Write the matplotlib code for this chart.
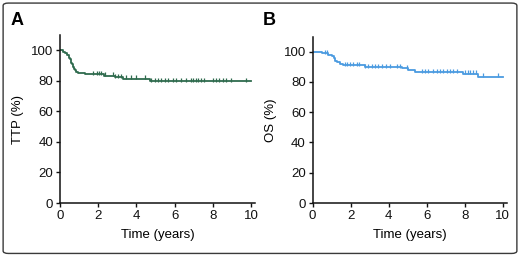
import matplotlib
matplotlib.use("Agg")
import matplotlib.pyplot as plt
from matplotlib.patches import FancyBboxPatch
import numpy as np

# ---- Data: panel A (TTP) ----
ttp_times = [0, 0.15, 0.25, 0.35, 0.45, 0.5, 0.55, 0.6, 0.65, 0.7, 0.75, 0.8, 0.85, 0.95,
             1.3, 2.3, 2.9, 3.3, 4.7, 10.0]
ttp_surv = [100, 99, 98, 97, 95, 94, 93, 92, 91, 89, 88, 87, 86, 85,
            84.5, 83.5, 82.5, 81.5, 80, 80]
ttp_censor = [1.74, 1.91, 2.05, 2.17, 2.34, 2.78, 2.90, 3.04, 3.21, 3.47, 3.73, 3.99,
              4.43, 4.77, 4.95, 5.12, 5.30, 5.47, 5.64, 5.90, 6.08, 6.34, 6.60, 6.86,
              6.98, 7.12, 7.24, 7.38, 7.55, 7.99, 8.16, 8.33, 8.51, 8.68, 8.94, 9.72]

# ---- Data: panel B (OS) ----
os_times = [0, 0.47, 0.82, 1.0, 1.1, 1.2, 1.3, 1.45, 1.6, 2.75, 4.68, 5.03, 5.38, 7.93, 8.72, 10.0]
os_surv = [100, 99, 98, 97, 96, 94, 93, 92, 91, 90, 89, 88, 86.7, 85.6, 83.5, 83.5]
os_censor = [0.65, 0.74, 1.70, 1.82, 1.96, 2.14, 2.31, 2.44, 2.75, 2.93, 3.10, 3.28, 3.45,
             3.63, 3.86, 4.07, 4.45, 4.59, 4.94, 5.73, 5.91, 6.09, 6.35, 6.53, 6.70, 6.87,
             7.05, 7.23, 7.40, 7.58, 8.02, 8.19, 8.28, 8.45, 8.58, 8.98, 9.77]

x_ticks = [0, 2, 4, 6, 8, 10]
y_ticks = [0, 20, 40, 60, 80, 100]

plt.rcParams['font.family'] = ['Liberation Sans', 'DejaVu Sans']

fig = plt.figure(figsize=(5.2, 2.56), dpi=100)

border = FancyBboxPatch((0.006, 0.01), 0.988, 0.978, boxstyle="round,pad=0,rounding_size=0.01",
                        transform=fig.transFigure, fill=False, edgecolor='#3a3a3a', linewidth=1.0)
fig.patches.append(border)


def surv_at(times, surv, t):
    idx = np.searchsorted(times, t, side='right') - 1
    return surv[idx]


def panel(rect, times, surv, censor, color, ylabel, letter, letter_x):
    ax = fig.add_axes(rect)
    ax.step(times, surv, where='post', color=color, linewidth=1.3)
    cy = [surv_at(times, surv, c) for c in censor]
    ax.plot(censor, np.array(cy) + 0.8, linestyle='none', marker='|', markersize=3.5,
            markeredgewidth=0.9, color=color)
    ax.set_xlim(0, 10.2)
    ax.set_ylim(0, 110)
    ax.set_xticks(x_ticks)
    ax.set_yticks(y_ticks)
    ax.spines['top'].set_visible(False)
    ax.spines['right'].set_visible(False)
    for s in ('left', 'bottom'):
        ax.spines[s].set_linewidth(1.1)
        ax.spines[s].set_color('#111111')
    ax.tick_params(direction='out', length=3, width=1, labelsize=9.5, pad=2, colors='#111111')
    ax.set_xlabel('Time (years)', fontsize=9.5, labelpad=5)
    ax.set_ylabel(ylabel, fontsize=9.5, labelpad=5)
    fig.text(letter_x, 0.92, letter, fontsize=13, fontweight='bold',
             va='center', ha='left')
    return ax


panel([0.1154, 0.207, 0.375, 0.656], ttp_times, ttp_surv, ttp_censor, '#2f6b4e', 'TTP (%)', 'A', 0.02)
panel([0.6013, 0.207, 0.373, 0.650], os_times, os_surv, os_censor, '#4b9be0', 'OS (%)', 'B', 0.505)

fig.savefig('out.png', dpi=100)
